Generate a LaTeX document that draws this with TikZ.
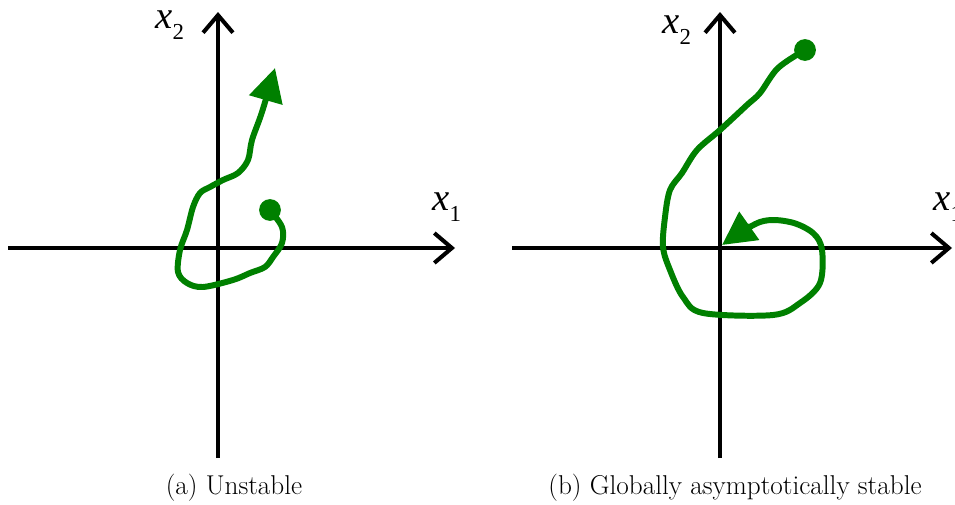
\documentclass[tikz,border=0pt]{standalone}
\usepackage{fontspec}
\newfontfamily\labfont{Liberation Serif Italic}
\newfontfamily\subfont{Liberation Serif}
\usetikzlibrary{arrows.meta}
\newcommand{\xlab}[1]{x\raisebox{-6.8pt}{\subfont\fontsize{13}{13}\selectfont #1}}

\begin{document}
\begin{tikzpicture}[x=0.02cm,y=-0.02cm,
  axis/.style={line width=2.3pt,-{Straight Barb[length=10pt,width=17pt,line width=2.3pt]}},
  traj/.style={line width=3.4pt,draw=green!50!black,line cap=round,line join=round},
  tip/.style={-{Triangle[length=19pt,width=19pt]}},
  lab/.style={font=\labfont\fontsize{22}{22}\selectfont,inner sep=0pt,anchor=base west},
  captxt/.style={font=\fontsize{15.5}{18}\selectfont,inner sep=0pt}]
\useasboundingbox (0,0) rectangle (955,504);
% (a) unstable
\coordinate (Wa) at (8,248); \coordinate (Ea) at (455,248);
\coordinate (Sa) at (218,458); \coordinate (Na) at (218,12);
\draw[axis] (Wa)--(Ea); \draw[axis] (Sa)--(Na);
\node[lab] (x1a) at (432,210) {\xlab{1}};
\node[lab] (x2a) at (155,28) {\xlab{2}};
\draw[traj,tip] plot[smooth,tension=0.55] coordinates {(270,210) (282,227) (282,243) (273,257) (265,267) (250,273) (233,280) (203,287) (187,283) (178,272) (180,250) (187,230) (193,207) (200,193) (210,187) (223,180) (238,173) (248,160) (252,140) (262,112) (275,68)};
\fill[green!50!black] (270,210) circle (6.2pt);
\node[captxt] (capa) at (234,488) {(a) Unstable};
% (b) globally asymptotically stable
\coordinate (Wb) at (512,248); \coordinate (Eb) at (952,248);
\coordinate (Sb) at (720,458); \coordinate (Nb) at (720,12);
\draw[axis] (Wb)--(Eb); \draw[axis] (Sb)--(Nb);
\node[lab] (x1b) at (933,210) {\xlab{1}};
\node[lab] (x2b) at (662,33) {\xlab{2}};
\draw[traj,tip] plot[smooth,tension=0.55] coordinates {(805,50) (778,68) (760,93) (747,105) (720,130) (697,150) (682,173) (670,190) (665,217) (663,247) (670,270) (683,297) (703,313) (773,315) (800,303) (820,283) (822,250) (813,233) (790,222) (760,222) (722,245)};
\fill[green!50!black] (805,50) circle (6.2pt);
\node[captxt] (capb) at (735,488) {(b) Globally asymptotically stable};
\end{tikzpicture}
\end{document}
